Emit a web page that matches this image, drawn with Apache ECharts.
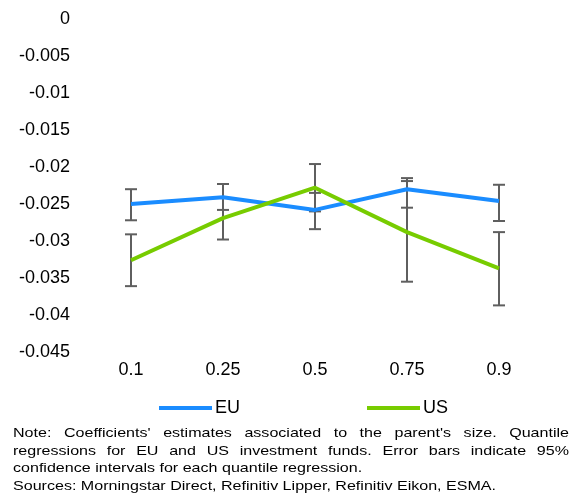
<!DOCTYPE html>
<html>
<head>
<meta charset="utf-8">
<script src="https://cdn.jsdelivr.net/npm/echarts@6/dist/echarts.min.js"></script>
<style>
  html, body { margin: 0; padding: 0; background: #fff; }
  #chart { width: 571px; height: 498px; }
</style>
</head>
<body>
<div id="chart"></div>
<script>
// Quantiles of the regression
const quantiles = ['0.1', '0.25', '0.5', '0.75', '0.9'];

// Coefficient estimates
const euCoef = [-0.0250, -0.0241, -0.0258, -0.0230, -0.0246];
const usCoef = [-0.0326, -0.0269, -0.0228, -0.0288, -0.0337];

// 95% confidence bounds
const euLow  = [-0.0272, -0.0258, -0.0284, -0.0255, -0.0273];
const euHigh = [-0.0230, -0.0223, -0.0235, -0.0215, -0.0224];
const usLow  = [-0.0361, -0.0298, -0.0260, -0.0355, -0.0387];
const usHigh = [-0.0291, -0.0241, -0.0196, -0.0219, -0.0288];

const noteLines = [
  { text: "Note: Coefficients' estimates associated to the parent's size. Quantile", justify: true },
  { text: "regressions for EU and US investment funds. Error bars indicate 95%", justify: true },
  { text: "confidence intervals for each quantile regression.", justify: false },
  { text: "Sources: Morningstar Direct, Refinitiv Lipper, Refinitiv Eikon, ESMA.", justify: false }
];

const FONT = '"Liberation Sans", Arial, sans-serif';
const BLUE = '#1a8cff';
const GREEN = '#77cc00';
const BAR = '#5f5f5f';

function errorData(low, high) {
  return low.map((v, i) => [i, v, high[i]]);
}

function renderErrorBar(params, api) {
  const x = api.value(0);
  const lo = api.coord([x, api.value(1)]);
  const hi = api.coord([x, api.value(2)]);
  const half = 6;
  const style = { stroke: BAR, lineWidth: 2 };
  return {
    type: 'group',
    children: [
      { type: 'line', shape: { x1: lo[0], y1: lo[1], x2: hi[0], y2: hi[1] }, style },
      { type: 'line', shape: { x1: lo[0] - half, y1: lo[1], x2: lo[0] + half, y2: lo[1] }, style },
      { type: 'line', shape: { x1: hi[0] - half, y1: hi[1], x2: hi[0] + half, y2: hi[1] }, style }
    ]
  };
}

// Note block: slightly wide lettering, first two lines spread to full width
const noteFontSize = 13.5;
const noteStretch = 1.19;
const noteFont = noteFontSize + 'px ' + FONT;
const measureCtx = document.createElement('canvas').getContext('2d');
measureCtx.font = noteFont;
const noteLeft = 13, noteRight = 569, noteTop = 433, noteLineH = 17.8;
const noteGraphics = [];
noteLines.forEach((ln, li) => {
  const y = noteTop + li * noteLineH;
  const words = ln.justify ? ln.text.split(' ') : [ln.text];
  const widths = words.map(w => measureCtx.measureText(w).width * noteStretch);
  const total = widths.reduce((a, b) => a + b, 0);
  const gap = words.length > 1 ? (noteRight - noteLeft - total) / (words.length - 1) : 0;
  let x = noteLeft;
  words.forEach((w, wi) => {
    noteGraphics.push({
      type: 'text', x: x, y: y, scaleX: noteStretch,
      style: { text: w, font: noteFont, fill: '#000', verticalAlign: 'middle', textVerticalAlign: 'middle' }
    });
    x += widths[wi] + gap;
  });
});

const chart = echarts.init(document.getElementById('chart'), null, { renderer: 'canvas' });
chart.setOption({
  animation: false,
  backgroundColor: '#fff',
  grid: { left: 85, width: 460, top: 19, height: 333 },
  xAxis: {
    type: 'category',
    data: quantiles,
    axisLine: { show: false },
    axisTick: { show: false },
    axisLabel: { color: '#000', fontSize: 18, fontFamily: FONT, margin: 9 }
  },
  yAxis: {
    type: 'value',
    min: -0.045,
    max: 0,
    interval: 0.005,
    axisLine: { show: false },
    axisTick: { show: false },
    splitLine: { show: false },
    axisLabel: { color: '#000', fontSize: 18, fontFamily: FONT, margin: 15 }
  },
  legend: {
    data: ['EU', 'US'],
    left: 154,
    top: 394,
    itemWidth: 53,
    itemHeight: 4,
    itemGap: 127,
    icon: 'rect',
    textStyle: { color: '#000', fontSize: 18, fontFamily: FONT, padding: [0, 0, 0, -2] }
  },
  series: [
    {
      name: 'EU', type: 'line', data: euCoef,
      symbol: 'none', lineStyle: { color: BLUE, width: 4 }, itemStyle: { color: BLUE }, z: 3
    },
    {
      name: 'US', type: 'line', data: usCoef,
      symbol: 'none', lineStyle: { color: GREEN, width: 4 }, itemStyle: { color: GREEN }, z: 3
    },
    {
      type: 'custom', name: 'EU range', data: errorData(euLow, euHigh),
      renderItem: renderErrorBar, z: 2, silent: true
    },
    {
      type: 'custom', name: 'US range', data: errorData(usLow, usHigh),
      renderItem: renderErrorBar, z: 2, silent: true
    }
  ],
  graphic: noteGraphics
});
</script>
</body>
</html>
